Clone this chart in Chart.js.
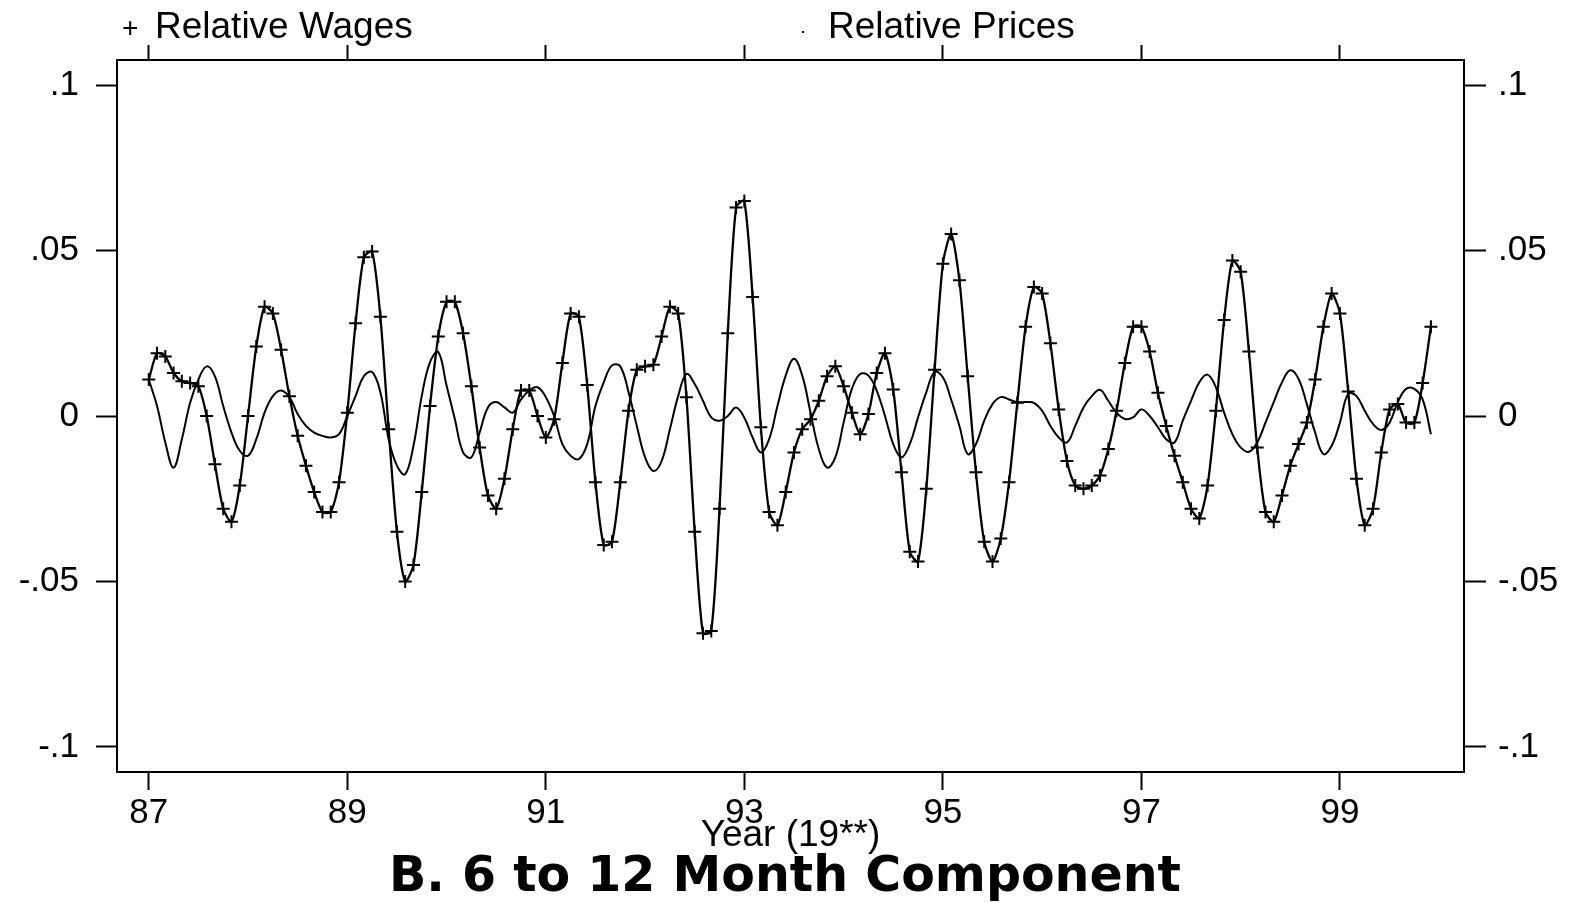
<!DOCTYPE html>
<html>
<head>
<meta charset="utf-8">
<title>B. 6 to 12 Month Component</title>
<script src="https://cdn.jsdelivr.net/npm/chart.js@4.4.1/dist/chart.umd.min.js"></script>
<style>
  html, body { margin: 0; padding: 0; background: #fff; }
  #wrap { width: 1570px; height: 903px; }
</style>
</head>
<body>
<div id="wrap"><canvas id="chart" width="1570" height="903"></canvas></div>
<script>
// Monthly series, Jan 1987 .. Dec 1999 (12 values per row = one year)
const startYear = 87;

const relWages = [
  0.011, 0.019, 0.018, 0.013, 0.0105, 0.010, 0.009, 0.000, -0.0146, -0.028, -0.032, -0.021,
  0.000, 0.021, 0.033, 0.031, 0.020, 0.006, -0.006, -0.015, -0.023, -0.029, -0.029, -0.020,
  0.001, 0.028, 0.048, 0.0497, 0.030, -0.004, -0.035, -0.050, -0.045, -0.023, 0.003, 0.024,
  0.0345, 0.0345, 0.025, 0.009, -0.0095, -0.024, -0.028, -0.019, -0.004, 0.0077, 0.0077, 0.000,
  -0.0065, -0.001, 0.016, 0.031, 0.030, 0.0094, -0.020, -0.039, -0.038, -0.020, 0.0016, 0.014,
  0.015, 0.0155, 0.024, 0.033, 0.031, 0.0057, -0.035, -0.0657, -0.065, -0.028, 0.025, 0.063,
  0.065, 0.036, -0.0034, -0.029, -0.033, -0.023, -0.011, -0.004, -0.001, 0.0046, 0.012, 0.015,
  0.009, 0.001, -0.0055, 0.0006, 0.013, 0.019, 0.008, -0.017, -0.041, -0.044, -0.022, 0.014,
  0.046, 0.055, 0.041, 0.012, -0.017, -0.038, -0.044, -0.037, -0.020, 0.004, 0.027, 0.039,
  0.037, 0.022, 0.002, -0.0136, -0.021, -0.022, -0.021, -0.018, -0.010, 0.0016, 0.016, 0.027,
  0.027, 0.0195, 0.007, -0.003, -0.012, -0.020, -0.028, -0.031, -0.021, 0.0016, 0.029, 0.047,
  0.0436, 0.0195, -0.0095, -0.029, -0.032, -0.024, -0.015, -0.0085, -0.002, 0.011, 0.027, 0.037,
  0.031, 0.0074, -0.019, -0.033, -0.028, -0.011, 0.002, 0.0036, -0.002, -0.002, 0.010, 0.027
];

const relPrices = [
  0.011, 0.003, -0.008, -0.0156, -0.007, 0.004, 0.011, 0.015, 0.012, 0.003, -0.005, -0.0105,
  -0.012, -0.007, 0.001, 0.006, 0.0077, 0.0057, 0.0006, -0.003, -0.005, -0.006, -0.0065, -0.0055,
  0.000, 0.006, 0.012, 0.0133, 0.0072, -0.007, -0.015, -0.0176, -0.009, 0.006, 0.0163, 0.0193,
  0.0092, -0.0009, -0.011, -0.0125, -0.005, 0.0026, 0.0042, 0.0026, 0.001, 0.005, 0.0077, 0.0087,
  0.0057, 0.000, -0.0085, -0.012, -0.013, -0.0085, 0.003, 0.0102, 0.0153, 0.015, 0.0072, -0.003,
  -0.0125, -0.0166, -0.0136, -0.004, 0.006, 0.0127, 0.0097, 0.0046, -0.0004, -0.0014, 0.000, 0.0026,
  -0.0005, -0.0065, -0.011, -0.007, 0.003, 0.0122, 0.0173, 0.0122, 0.001, -0.010, -0.0156, -0.0125,
  -0.002, 0.0082, 0.0127, 0.0122, 0.0077, 0.000, -0.0085, -0.0125, -0.0085, -0.0004, 0.0072, 0.0133,
  0.0117, 0.005, -0.003, -0.0115, -0.0085, -0.0014, 0.0036, 0.0057, 0.005, 0.0042, 0.0042, 0.004,
  0.0016, -0.003, -0.0065, -0.008, -0.003, 0.0026, 0.006, 0.0079, 0.0046, 0.001, -0.0009, -0.0004,
  0.002, 0.000, -0.0034, -0.007, -0.008, -0.0014, 0.0046, 0.0102, 0.0125, 0.0087, 0.001, -0.0055,
  -0.0095, -0.0108, -0.008, -0.002, 0.0042, 0.0102, 0.0138, 0.0112, 0.0036, -0.005, -0.0115, -0.009,
  -0.002, 0.0067, 0.006, 0.0016, -0.0024, -0.0042, -0.002, 0.0042, 0.0082, 0.0082, 0.005, -0.0055
];

const xTicks = [87, 89, 91, 93, 95, 97, 99];
const yTicks = [-0.1, -0.05, 0, 0.05, 0.1];
const yTickLabels = ['-.1', '-.05', '0', '.05', '.1'];
const keyLabels = ['Relative Wages', 'Relative Prices'];

const SANS = '"Liberation Sans", Arial, sans-serif';

// month index -> fractional year on the x axis
function toPoints(values) {
  return values.map((v, i) => ({ x: startYear + i / 12, y: v }));
}

function tickMarks(len) {
  return {
    display: true,
    drawOnChartArea: false,
    drawTicks: true,
    tickLength: len,
    tickWidth: 2,
    tickColor: '#000',
    color: '#000'
  };
}

const frame = { display: true, color: '#000', width: 2 };

// Key at the top of the frame, drawn over the top axis band
const topKey = {
  id: 'topKey',
  afterDraw(chart) {
    const ctx = chart.ctx;
    ctx.save();
    ctx.fillStyle = '#000';
    ctx.textBaseline = 'alphabetic';
    ctx.font = '28px ' + SANS;
    ctx.fillText('+', 122, 37);
    ctx.font = '37px ' + SANS;
    ctx.fillText(keyLabels[0], 155, 38);
    ctx.fillRect(802, 31, 2, 2);
    ctx.fillText(keyLabels[1], 828, 38);
    ctx.restore();
  }
};

new Chart(document.getElementById('chart'), {
  type: 'line',
  data: {
    datasets: [
      {
        label: keyLabels[0],
        data: toPoints(relWages),
        borderColor: '#000',
        borderWidth: 2.3,
        pointStyle: 'cross',
        pointRadius: 6.5,
        pointBorderWidth: 2,
        pointBorderColor: '#000',
        tension: 0.25,
        fill: false
      },
      {
        label: keyLabels[1],
        data: toPoints(relPrices),
        borderColor: '#000',
        borderWidth: 2,
        pointRadius: 0,
        tension: 0.4,
        fill: false
      }
    ]
  },
  options: {
    responsive: false,
    devicePixelRatio: 1,
    animation: false,
    layout: { padding: 0 },
    plugins: {
      legend: { display: false },
      tooltip: { enabled: false },
      title: {
        display: true,
        position: 'bottom',
        text: 'B. 6 to 12 Month Component',
        color: '#000',
        font: { family: '"DejaVu Sans", Verdana, sans-serif', size: 49, weight: 'bold', lineHeight: 1 },
        padding: { top: 0, bottom: 0 }
      }
    },
    scales: {
      x: {
        type: 'linear',
        position: 'bottom',
        min: 86.68,
        max: 100.25,
        afterBuildTicks: s => { s.ticks = xTicks.map(v => ({ value: v })); },
        afterFit: s => { s.height = 82; },
        ticks: {
          color: '#000',
          padding: 2,
          maxRotation: 0,
          font: { family: SANS, size: 35 },
          callback: (v, i) => String(xTicks[i])
        },
        grid: tickMarks(18),
        border: frame,
        title: {
          display: true,
          text: 'Year (19**)',
          color: '#000',
          font: { family: SANS, size: 37, lineHeight: 1 },
          padding: { top: 0, bottom: 0 }
        }
      },
      xTop: {
        type: 'linear',
        position: 'top',
        min: 86.68,
        max: 100.25,
        afterBuildTicks: s => { s.ticks = xTicks.map(v => ({ value: v })); },
        afterFit: s => { s.height = 60; },
        ticks: { display: false },
        grid: tickMarks(15),
        border: frame
      },
      y: {
        type: 'linear',
        position: 'left',
        min: -0.1076,
        max: 0.1076,
        afterBuildTicks: s => { s.ticks = yTicks.map(v => ({ value: v })); },
        afterFit: s => { s.width = 117; },
        ticks: {
          color: '#000',
          padding: 17,
          font: { family: SANS, size: 35 },
          callback: (v, i) => yTickLabels[i]
        },
        grid: tickMarks(21),
        border: frame
      },
      yRight: {
        type: 'linear',
        position: 'right',
        min: -0.1076,
        max: 0.1076,
        afterBuildTicks: s => { s.ticks = yTicks.map(v => ({ value: v })); },
        afterFit: s => { s.width = 106; },
        ticks: {
          color: '#000',
          padding: 12,
          font: { family: SANS, size: 35 },
          callback: (v, i) => yTickLabels[i]
        },
        grid: tickMarks(22),
        border: frame
      }
    }
  },
  plugins: [topKey]
});
</script>
</body>
</html>
